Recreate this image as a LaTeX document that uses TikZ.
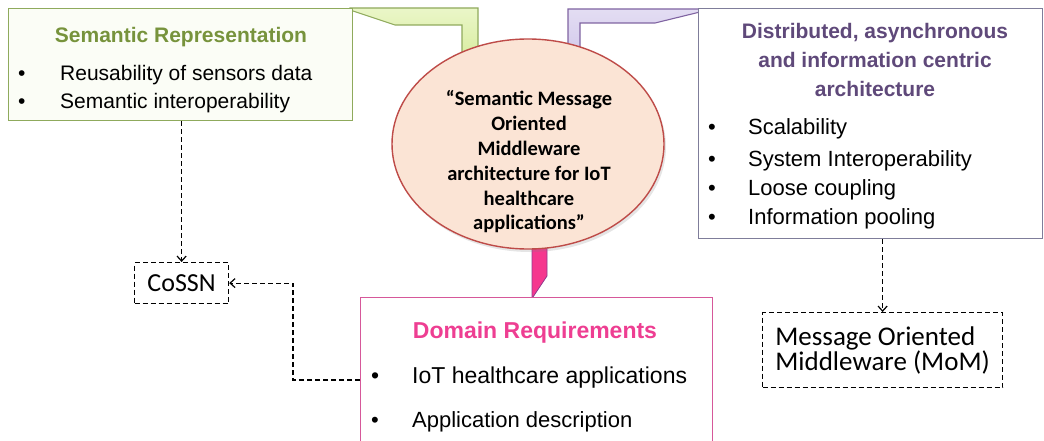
\documentclass[tikz,border=0pt]{standalone}
\usepackage{fontspec}
\setmainfont{Liberation Sans}
\newfontfamily\calibri{Carlito}
\usepackage{tikz}
\usetikzlibrary{arrows.meta,positioning,shapes.geometric,shadows}
\definecolor{semline}{HTML}{8FAA5C}
\definecolor{semfill}{HTML}{FBFDF6}
\definecolor{semhead}{HTML}{77933C}
\definecolor{semtop}{HTML}{EAF6C8}
\definecolor{sembot}{HTML}{D3EA93}
\definecolor{distline}{HTML}{7F7D9A}
\definecolor{disthead}{HTML}{5F497A}
\definecolor{disttop}{HTML}{E3DDF3}
\definecolor{distbot}{HTML}{CCC1E8}
\definecolor{distedge}{HTML}{8064A2}
\definecolor{domline}{HTML}{D6589A}
\definecolor{domhead}{HTML}{EE3E92}
\definecolor{domtail}{HTML}{F5378E}
\definecolor{domedge}{HTML}{8E3C8E}
\definecolor{corefill}{HTML}{FBE4D5}
\definecolor{coreline}{HTML}{BE4B48}
\tikzset{
  panel/.style={
    rectangle,
    anchor=north west,
    inner sep=0pt,
    line width=1.3pt,
    fill=white
  },
  head/.style={
    align=center,
    inner sep=0pt,
    font=\fontsize{21}{29}\selectfont\bfseries
  },
  point/.style={
    anchor=west,
    inner sep=0pt,
    text height=1.5ex,
    text depth=0pt,
    font=\fontsize{21}{25}\selectfont
  },
  core/.style={
    ellipse,
    draw=coreline,
    fill=corefill,
    line width=1.4pt,
    minimum width=272pt,
    minimum height=210pt,
    drop shadow={opacity=0.2, shadow xshift=2pt, shadow yshift=-3pt}
  },
  coretext/.style={
    align=center,
    inner sep=0pt,
    font=\calibri\bfseries\fontsize{20.5}{24.8}\selectfont
  },
  note/.style={
    rectangle,
    draw,
    anchor=north west,
    line width=1.2pt,
    dash pattern=on 5pt off 3pt,
    inner sep=0pt,
    font=\calibri\fontsize{26}{25}\selectfont
  },
  link/.style={-{Straight Barb[length=5pt,width=9pt]}, line width=1.2pt, dash pattern=on 5pt off 3pt}
}

\begin{document}
\begin{tikzpicture}[x=1pt,y=-1pt]

\clip (0,0) rectangle (1044,441);
\fill[white] (0,0) rectangle (1044,441);

% callout tails, drawn first so the ellipse covers them
\draw[draw=semline, line width=1.1pt, top color=semtop, bottom color=sembot]
  (350,10) -- (395,25) -- (462,25) -- (462,75) -- (478,75) -- (478,8) -- (350,8) -- cycle;
\draw[draw=distedge, line width=1.1pt, top color=disttop, bottom color=distbot]
  (700,12) -- (655,23) -- (580,23) -- (580,75) -- (568,75) -- (568,9) -- (700,9) -- cycle;
\draw[draw=domedge, line width=0.8pt, fill=domtail]
  (532,230) -- (547,230) -- (547,276) -- (533,297) -- (532,297) -- cycle;

\node[panel, draw=semline, fill=semfill, minimum width=344pt, minimum height=112pt] (semrep) at (8,8) {};
\node[head, text=semhead] (semtitle) at (181,37) {Semantic Representation};
\node[point] (reuse) at (18,77) {\makebox[42pt][l]{•}Reusability of sensors data};
\node[point] (seminter) at (18,105) {\makebox[42pt][l]{•}Semantic interoperability};

\node[panel, draw=distline, minimum width=344pt, minimum height=230pt] (distarch) at (698,8) {};
\node[head, text=disthead] (disttitle) at (875,60) {Distributed, asynchronous\\and information centric\\architecture};
\node[point, font=\fontsize{22}{25}\selectfont] (scal) at (708,131) {\makebox[40pt][l]{•}Scalability};
\node[point, font=\fontsize{22}{25}\selectfont] (sysinter) at (708,163) {\makebox[40pt][l]{•}System Interoperability};
\node[point, font=\fontsize{22}{25}\selectfont] (loose) at (708,192) {\makebox[40pt][l]{•}Loose coupling};
\node[point, font=\fontsize{22}{25}\selectfont] (pool) at (708,221) {\makebox[40pt][l]{•}Information pooling};

\node[panel, draw=domline, minimum width=352pt, minimum height=170pt] (domreq) at (360,297) {};
\node[head, text=domhead, font=\fontsize{23}{29}\selectfont\bfseries] (domtitle) at (535,333) {Domain Requirements};
\node[point, font=\fontsize{23}{25}\selectfont] (iot) at (371,380) {\makebox[41pt][l]{•}IoT healthcare applications};
\node[point, font=\fontsize{22}{25}\selectfont] (appdesc) at (371,424) {\makebox[41pt][l]{•}Application description};

\node[core] (smom) at (528,144) {};
\node[coretext] (smomtitle) at (529,162) {“Semantic Message\\Oriented\\Middleware\\architecture for IoT\\healthcare\\applications”};

\node[note, minimum width=94pt, minimum height=41pt] (cossn) at (134,262) {CoSSN};
\node[note, minimum width=240pt, minimum height=75pt, align=left, font=\calibri\fontsize{27}{25}\selectfont] (mom) at (762,312) {Message Oriented\\Middleware (MoM)};

\draw[link] (cossn.north |- semrep.south) -- (cossn.north);
\draw[link] (domreq.west |- iot.west) -- ++(-67,0) |- (cossn.east);
\draw[link] (mom.north |- distarch.south) -- (mom.north);

\end{tikzpicture}
\end{document}
